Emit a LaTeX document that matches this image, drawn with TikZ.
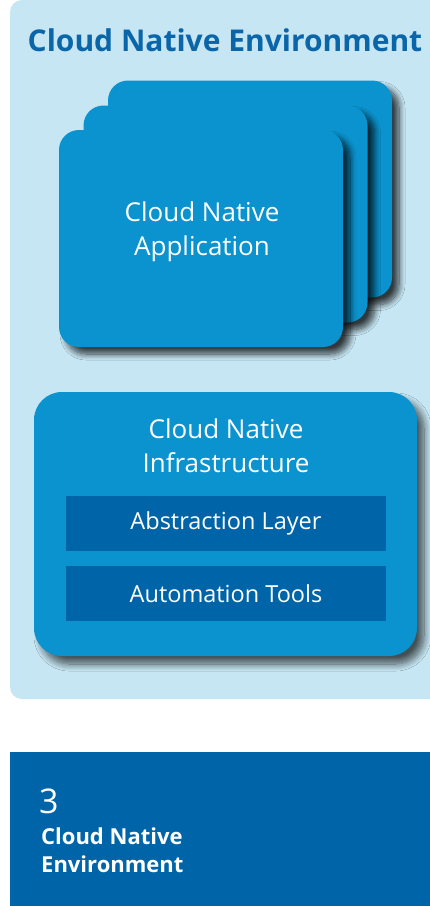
\documentclass[tikz,border=0pt]{standalone}
\usepackage{fontspec}
\setmainfont{Open Sans}
\usetikzlibrary{shadows.blur}
\definecolor{panelblue}{HTML}{C6E6F3}
\definecolor{cardblue}{HTML}{0A93CE}
\definecolor{darkblue}{HTML}{0065A8}
\definecolor{titleblue}{HTML}{0A66A8}
\tikzset{
  card/.style={rectangle, rounded corners=20pt, fill=cardblue, inner sep=0pt,
    minimum width=284pt, minimum height=217pt,
    blur shadow={shadow xshift=7pt, shadow yshift=-7pt, shadow blur radius=6pt, shadow blur steps=10, shadow opacity=75}},
  infra/.style={rectangle, rounded corners=28pt, fill=cardblue, inner sep=0pt,
    minimum width=383pt, minimum height=264pt,
    blur shadow={shadow xshift=7pt, shadow yshift=-8pt, shadow blur radius=7pt, shadow blur steps=10, shadow opacity=65}},
  bar/.style={rectangle, fill=darkblue, inner sep=0pt, minimum width=320pt, minimum height=55pt,
    text=white, font=\fontsize{23.5}{28}\selectfont},
  whitelabel/.style={text=white, align=center, font=\fontsize{26}{34}\selectfont},
}
\begin{document}
\begin{tikzpicture}[x=1pt,y=-1pt]
\useasboundingbox (0,0) rectangle (430,906);
\fill[white] (0,0) rectangle (430,906);
% panel
\fill[panelblue, rounded corners=12pt] (10,0) rectangle (450,699);
\node[font=\bfseries\fontsize{30}{34}\selectfont, text=titleblue] (title) at (225,40) {Cloud Native Environment};
% stacked cards
\node[card] (back) at (250,189) {};
\node[card] (middle) at (225.5,214) {};
\node[card] (front) at (201,238.5) {};
\node[whitelabel] (applabel) at (202,232) {Cloud Native\\Application};
% infrastructure
\node[infra] (infra) at (225.5,524) {};
\node[whitelabel] (infralabel) at (226,446) {Cloud Native\\Infrastructure};
\node[bar] (abstr) at (226,523.5) {Abstraction Layer};
\node[bar] (auto) at (226,593.5) {Automation Tools};
% bottom bar
\fill[darkblue] (10,752) rectangle (440,906);
\node[anchor=west, text=white, font=\fontsize{34}{34}\selectfont, inner sep=0pt] (num) at (39,801) {3};
\node[anchor=north west, text=white, align=left, inner sep=0pt, font=\bfseries\fontsize{22}{28}\selectfont] (foot) at (41,828) {Cloud Native\\Environment};
\end{tikzpicture}
\end{document}
